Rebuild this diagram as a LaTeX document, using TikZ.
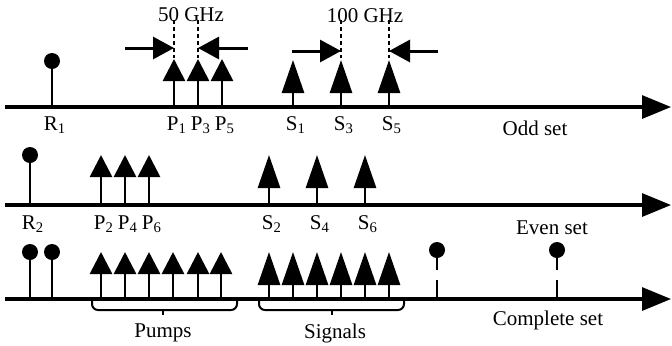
\documentclass[tikz,border=0pt]{standalone}
\usepackage{fontspec}
\setmainfont{Liberation Serif}
\usetikzlibrary{arrows.meta,positioning}

\begin{document}
\begin{tikzpicture}[x=0.5pt,y=-0.5pt,
    font=\fontsize{10.5}{12}\selectfont,
    axis/.style={line width=1.6pt,-{Triangle[length=14.5pt,width=11.5pt]}},
    pumparrow/.style={line width=1.35pt,-{Triangle[length=11pt,width=11pt]}},
    sigarrow/.style={line width=1.35pt,-{Triangle[length=16.5pt,width=11pt]}},
    refline/.style={line width=1.35pt},
    refdot/.style={circle,fill,inner sep=0pt,minimum size=8pt},
    gapline/.style={line width=0.75pt,dash pattern=on 2.2pt off 1.3pt},
    spacing/.style={line width=1.5pt,-{Triangle[length=10.5pt,width=11pt]}},
    brace/.style={line width=1pt,rounded corners=3pt}]
\useasboundingbox (0,0) rectangle (672,345);

% odd set
\draw[axis] (5,107) -- (671,107);
\draw[refline] (52,107) -- (52,61);
\node[refdot] (d1) at (52,61) {};
\node (r1) at (55,125) {R\textsubscript{1}};
\foreach \x/\n in {174/1,198/3,222/5}
{
  \draw[pumparrow] (\x,107) -- (\x,59);
  \node (p\n) at (\x+3,125) {P\textsubscript{\n}};
}
\foreach \x/\n in {293/1,341/3,389/5}
{
  \draw[sigarrow] (\x,107) -- (\x,60);
  \node (s\n) at (\x+3,125) {S\textsubscript{\n}};
}
\node (odd) at (535,128) {Odd set};

% spacings
\draw[gapline] (174,20) -- (174,58);
\draw[gapline] (198,20) -- (198,58);
\draw[spacing] (125,48) -- (174,48);
\draw[spacing] (248,48) -- (198,48);
\node (ghz50) at (191,15) {50 GHz};
\draw[gapline] (341,20) -- (341,58);
\draw[gapline] (389,20) -- (389,58);
\draw[spacing] (292,51) -- (341,51);
\draw[spacing] (438,51) -- (389,51);
\node (ghz100) at (365,16) {100 GHz};

% even set
\draw[axis] (5,205) -- (671,205);
\draw[refline] (30,205) -- (30,155);
\node[refdot] (d2) at (30,155) {};
\node (r2) at (33,224) {R\textsubscript{2}};
\foreach \x/\n in {101/2,125/4,149/6}
{
  \draw[pumparrow] (\x,205) -- (\x,155);
  \node (p\n) at (\x+3,224) {P\textsubscript{\n}};
}
\foreach \x/\n in {269/2,317/4,365/6}
{
  \draw[sigarrow] (\x,205) -- (\x,155);
  \node (s\n) at (\x+3,224) {S\textsubscript{\n}};
}
\node (even) at (552,228) {Even set};

% complete set
\draw[axis] (5,299) -- (671,299);
\foreach \x in {30,52}
{
  \draw[refline] (\x,299) -- (\x,252);
  \node[refdot] at (\x,252) {};
}
\foreach \x in {101,125,149,173,198,221}
  \draw[pumparrow] (\x,299) -- (\x,252);
\foreach \x in {269,293,317,341,365,389}
  \draw[sigarrow] (\x,299) -- (\x,252);
\foreach \x in {437,557}
{
  \node[refdot] at (\x,250) {};
  \draw[refline] (\x,250) -- (\x,270);
  \draw[refline] (\x,280) -- (\x,299);
}
\draw[brace] (92,300) -- (92,310) -- (237,310) -- (237,300);
\draw[brace] (163,310) -- (163,315);
\draw[brace] (259,300) -- (259,310) -- (404,310) -- (404,300);
\draw[brace] (332,310) -- (332,315);
\node (pumps) at (163,333) {Pumps};
\node (signals) at (335,333) {Signals};
\node (complete) at (548,320) {Complete set};
\end{tikzpicture}
\end{document}
